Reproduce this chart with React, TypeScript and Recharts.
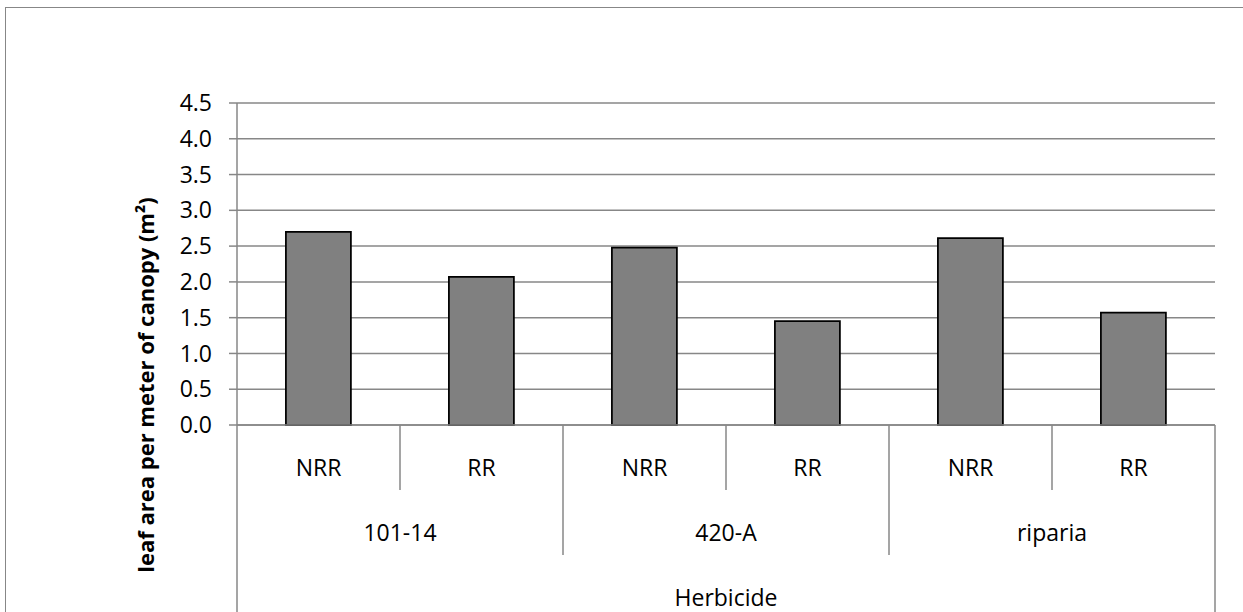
import React from 'react';
import { BarChart, Bar, XAxis, YAxis, CartesianGrid } from 'recharts';

const groups = ['101-14', '420-A', 'riparia'];
const treatments = ['NRR', 'RR'];
const leafArea = [2.7, 2.07, 2.48, 1.45, 2.61, 1.57];
const yTicks = [0, 0.5, 1, 1.5, 2, 2.5, 3, 3.5, 4, 4.5];

const chartData = leafArea.map((v, i) => ({
  name: treatments[i % treatments.length],
  group: groups[Math.floor(i / treatments.length)],
  value: v,
}));

const W = 1243;
const H = 612;
const PLOT_LEFT = 237;
const PLOT_RIGHT = 1215;
const AXIS_Y = 425;
const GRID = '#878787';
const FONT = '"Open Sans", "Noto Sans", sans-serif';

const HierTick = (props: any) => {
  const { x, index } = props;
  const half = (PLOT_RIGHT - PLOT_LEFT) / chartData.length / 2;
  const row = chartData[index];
  const last = index === chartData.length - 1;
  const endOfGroup = (index + 1) % treatments.length === 0;
  const lineEnd = last ? H : endOfGroup ? 555 : 490;
  return (
    <g>
      {index === 0 && (
        <line x1={x - half} y1={AXIS_Y} x2={x - half} y2={H} stroke={GRID} strokeWidth={1.5} />
      )}
      <line x1={x + half} y1={AXIS_Y} x2={x + half} y2={lineEnd} stroke={GRID} strokeWidth={1.5} />
      <text x={x} y={476} textAnchor="middle" fontSize={23} fill="#000" fontFamily={FONT}>
        {row.name}
      </text>
      {index % treatments.length === 0 && (
        <text x={x + half} y={541} textAnchor="middle" fontSize={23} fill="#000" fontFamily={FONT}>
          {row.group}
        </text>
      )}
    </g>
  );
};

const YTitle = () => (
  <text
    x={145}
    y={385}
    transform="rotate(-90 145 385)"
    textAnchor="middle"
    dominantBaseline="central"
    fontSize={22}
    fontWeight="bold"
    fill="#000"
    fontFamily={FONT}
  >
    leaf area per meter of canopy (m²)
  </text>
);

const App: React.FC = () => {
  return (
    <div style={{ position: 'absolute', left: 0, top: 0, width: W, height: H, overflow: 'hidden', background: '#fff' }}>
      <div
        style={{
          position: 'absolute',
          left: 5,
          top: 7,
          width: 1400,
          height: 800,
          border: `1.5px solid ${GRID}`,
        }}
      />
      <div style={{ position: 'absolute', left: 0, top: 0 }}>
        <BarChart
          width={W}
          height={H}
          data={chartData}
          margin={{ top: 103, right: W - PLOT_RIGHT, left: 0, bottom: 0 }}
          barCategoryGap="30%"
        >
          <CartesianGrid vertical={false} stroke={GRID} strokeWidth={1.5} />
          <XAxis
            dataKey="name"
            height={H - AXIS_Y}
            interval={0}
            tickLine={false}
            axisLine={{ stroke: GRID, strokeWidth: 1.5 }}
            tick={<HierTick />}
            label={{ value: 'Herbicide', position: 'insideBottom', offset: 6, fontSize: 23, fill: '#000', fontFamily: FONT }}
          />
          <YAxis
            width={PLOT_LEFT}
            domain={[0, 4.5]}
            ticks={yTicks}
            interval={0}
            tickSize={8}
            tickMargin={17}
            tickFormatter={(v: number) => v.toFixed(1)}
            tickLine={{ stroke: GRID, strokeWidth: 1.5 }}
            axisLine={{ stroke: GRID, strokeWidth: 1.5 }}
            tick={{ fontSize: 23, fill: '#000', fontFamily: FONT }}
            label={<YTitle />}
          />
          <Bar dataKey="value" fill="#808080" stroke="#000" strokeWidth={1.75} isAnimationActive={false} />
        </BarChart>
      </div>
    </div>
  );
};

export default App;
